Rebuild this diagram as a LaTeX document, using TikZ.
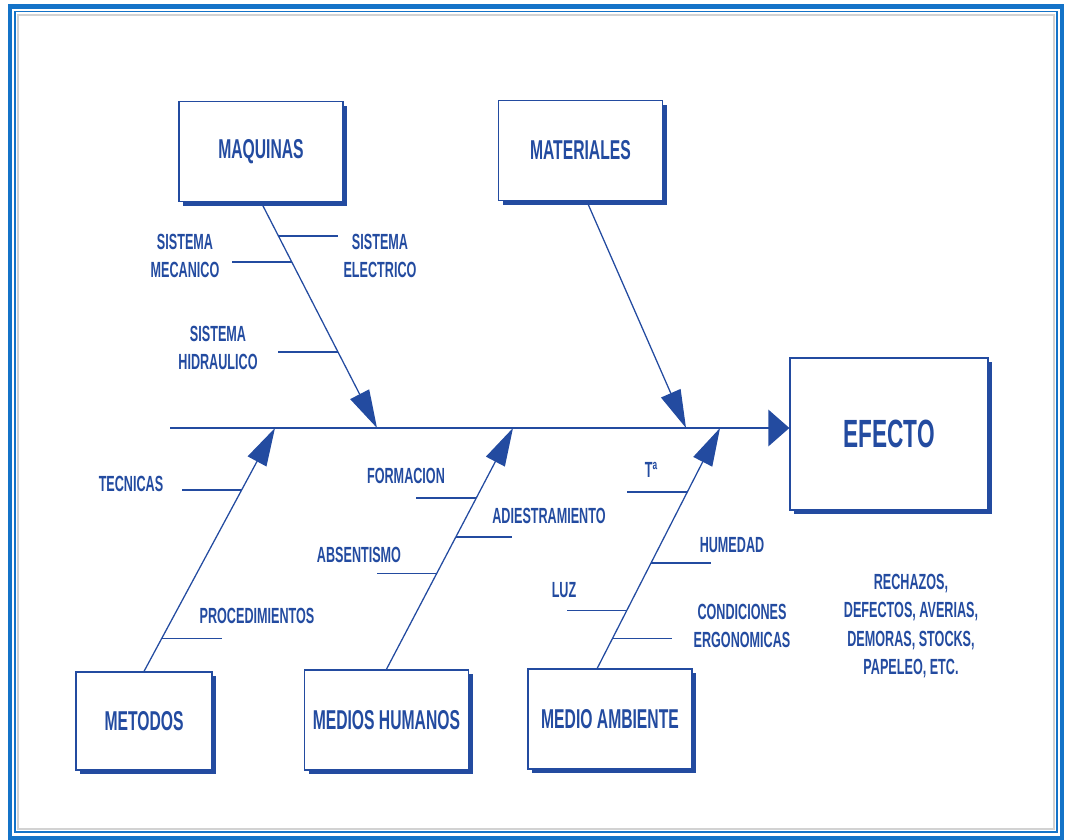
\documentclass[tikz,border=0pt]{standalone}
\usepackage{fontspec}
\setmainfont{Liberation Sans}[FakeStretch=0.575]
\usepackage{xcolor}
\usepackage{tikz}
\usetikzlibrary{arrows.meta,positioning,calc,shadows}
\definecolor{ink}{RGB}{35,75,160}
\definecolor{frameblue}{RGB}{20,115,200}

\begin{document}
\begin{tikzpicture}[
  every node/.style={font=\bfseries\fontsize{15.6}{20}\selectfont, text=ink, align=center},
  cause/.style={draw=ink, line width=0.9pt, fill=white, minimum width=4.1cm, minimum height=2.5cm, font=\bfseries\fontsize{19.4}{22}\selectfont, drop shadow={fill=ink, opacity=1, shadow xshift=3pt, shadow yshift=-3pt}},
  bone/.style={draw=ink, line width=0.9pt, -{Triangle[length=27pt,width=15pt]}},
  spine/.style={draw=ink, line width=1.3pt, -{Triangle[length=15pt,width=26pt]}},
  twig/.style={draw=ink, line width=1.3pt}
]
  \useasboundingbox (0,0) rectangle (26.675,20.975);
  \draw[frameblue, line width=3.4pt] (0.25,0.02) rectangle (26.55,20.81);
  \draw[frameblue, line width=1.2pt] (0.375,0.175) rectangle (26.425,20.69);
  \draw[gray!35, line width=1.5pt] (0.45,0.25) rectangle (26.35,20.6);

  \node[cause] (maq) at (6.525,17.19) {MAQUINAS};
  \node[cause] (mat) at (14.51,17.21) {MATERIALES};
  \node[cause, minimum width=4.95cm, minimum height=3.8cm, font=\bfseries\fontsize{28}{32}\selectfont] (efecto) at (22.225,10.125) {EFECTO};
  \node[cause, minimum width=3.4cm, minimum height=2.45cm] (met) at (3.6,2.95) {METODOS};
  \node[cause] (hum) at (9.66,2.975) {MEDIOS HUMANOS};
  \node[cause] (amb) at (15.25,3.0) {MEDIO AMBIENTE};

  \coordinate (tail) at (4.25,10.275);
  \coordinate (tmaq) at (9.425,10.275);
  \coordinate (tmat) at (17.15,10.275);
  \coordinate (tmet) at (6.875,10.275);
  \coordinate (thum) at (12.825,10.275);
  \coordinate (tamb) at (18.0,10.275);
  \coordinate (famb) at ($(amb.north)+(-0.32,0)$);

  \draw[spine] (tail) -- (tail -| efecto.west);
  \draw[bone] (maq.south) -- (tmaq);
  \draw[bone] ($(mat.south)+(0.16,0)$) -- (tmat);
  \draw[bone] (met.north) -- (tmet);
  \draw[bone] (hum.north) -- (thum);
  \draw[bone] (famb) -- (tamb);

  \draw[twig] ($(maq.south)!0.15!(tmaq)$) -- ++(1.5,0);
  \draw[twig] ($(maq.south)!0.265!(tmaq)$) -- ++(-1.5,0);
  \draw[twig] ($(maq.south)!0.664!(tmaq)$) -- ++(-1.5,0);
  \draw[twig] ($(met.north)!0.746!(tmet)$) -- ++(-1.5,0);
  \draw[twig] ($(met.north)!0.135!(tmet)$) -- ++(1.5,0);
  \draw[twig] ($(hum.north)!0.711!(thum)$) -- ++(-1.5,0);
  \draw[twig] ($(hum.north)!0.397!(thum)$) -- ++(-1.5,0);
  \draw[twig] ($(hum.north)!0.55!(thum)$) -- ++(1.4,0);
  \draw[twig] ($(famb)!0.734!(tamb)$) -- ++(-1.5,0);
  \draw[twig] ($(famb)!0.44!(tamb)$) -- ++(1.5,0);
  \draw[twig] ($(famb)!0.241!(tamb)$) -- ++(-1.5,0);
  \draw[twig] ($(famb)!0.124!(tamb)$) -- ++(1.5,0);

  \node (selec) at (9.5,14.575) {SISTEMA\\ELECTRICO};
  \node (smec) at (4.625,14.575) {SISTEMA\\MECANICO};
  \node (shid) at (5.45,12.275) {SISTEMA\\HIDRAULICO};
  \node (tec) at (3.275,8.875) {TECNICAS};
  \node (proc) at (6.425,5.575) {PROCEDIMIENTOS};
  \node (form) at (10.15,9.075) {FORMACION};
  \node (abs) at (8.975,7.1) {ABSENTISMO};
  \node (adies) at (13.725,8.075) {ADIESTRAMIENTO};
  \node (temp) at (16.275,9.225) {Tª};
  \node (hume) at (18.3,7.35) {HUMEDAD};
  \node (luz) at (14.1,6.225) {LUZ};
  \node (cond) at (18.55,5.325) {CONDICIONES\\ERGONOMICAS};
  \node (lista) at (22.775,5.325) {RECHAZOS,\\DEFECTOS, AVERIAS,\\DEMORAS, STOCKS,\\PAPELEO, ETC.};
\end{tikzpicture}
\end{document}
